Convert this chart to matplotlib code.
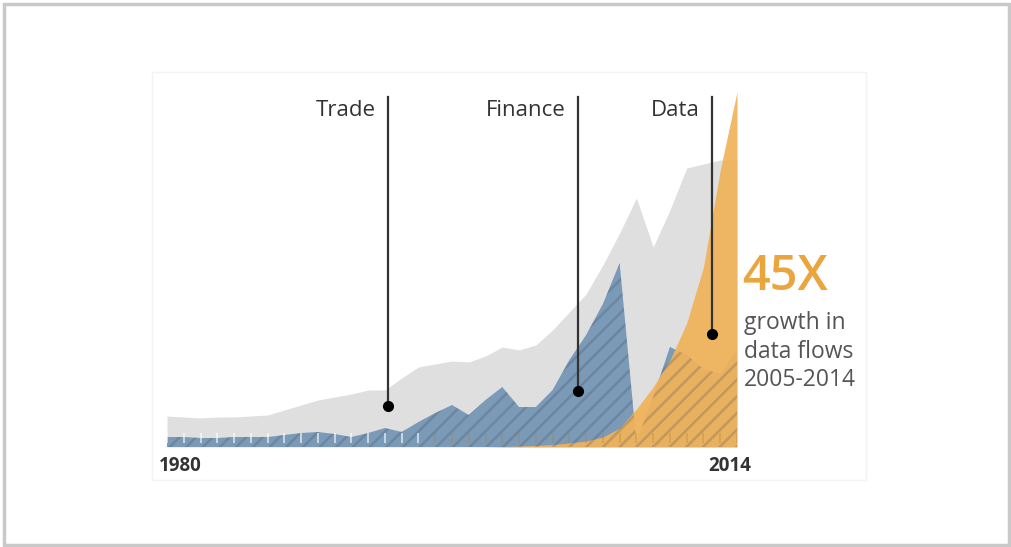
import numpy as np
import matplotlib
matplotlib.use("Agg")
import matplotlib.pyplot as plt
from matplotlib.patches import Rectangle

# ---------------- data (relative index) ----------------
years = list(range(1980, 2015))
trade = [31, 30, 29, 30, 30, 31, 32, 37, 42, 47,
         50, 53, 57, 57, 69, 80, 83, 86, 85, 91,
         100, 97, 102, 117, 135, 153, 182, 214, 249, 200,
         237, 279, 283, 287, 287]
finance = [10, 10, 9, 9, 10, 10, 10, 12, 14, 15,
           13, 10, 14, 19, 15, 25, 34, 42, 32, 47,
           60, 40, 40, 57, 87, 112, 143, 184, 5, 50,
           100, 92, 78, 73, 97]
data_flows = [0, 0, 0, 0, 0, 0, 0, 0, 0, 0,
              0, 0, 0, 0, 0, 0, 0, 0, 0, 0,
              0.5, 1, 1.5, 2.5, 4, 6, 10, 19, 38, 60,
              87, 124, 180, 277, 355]
labels = ["Trade", "Finance", "Data"]
label_years = [1993.2, 2004.5, 2012.5]
label_values = [41, 56, 113]
start_label, end_label = "1980", "2014"
big_text = "45X"
sub_text = ["growth in", "data flows", "2005-2014"]

# ---------------- figure ----------------
W, H = 1012, 547
fig = plt.figure(figsize=(W / 100, H / 100), dpi=100)
fig.patch.set_facecolor("white")
plt.rcParams["hatch.linewidth"] = 1.8

FONT = ["Open Sans", "DejaVu Sans"]

def fx(x):
    return x / W

def fy(y):
    return 1 - y / H

# outer frame
fig.patches.append(Rectangle((fx(4), fy(545)), fx(1005) - fx(0), fy(0) - fy(541),
                             transform=fig.transFigure, fill=False,
                             edgecolor="#c9c9c9", linewidth=2.5))
# faint inner picture box
fig.patches.append(Rectangle((fx(152), fy(480)), fx(714), fy(0) - fy(408),
                             transform=fig.transFigure, fill=False,
                             edgecolor="#f3f3f3", linewidth=1))

left, right, top, base = 167, 737, 92, 447
ax = fig.add_axes([fx(left), fy(base), fx(right - left), fy(top) - fy(base)])
ax.set_xlim(years[0], years[-1])
ax.set_ylim(0, 355)
ax.axis("off")

x = np.array(years)
ax.fill_between(x, 0, trade, color="#dfdfdf", linewidth=0, zorder=1)
ax.fill_between(x, 0, finance, facecolor="#7a9ab8", linewidth=0, zorder=2)
ax.fill_between(x, 0, data_flows, color="#f0b35a", alpha=0.93,
                linewidth=0, zorder=3)
# diagonal stripes of the finance area, visible through the data layer too
ax.fill_between(x, 0, finance, facecolor="none",
                edgecolor=(0.25, 0.25, 0.3, 0.22), hatch="//",
                linewidth=0, zorder=4)

# small tick marks along the baseline
for yr in years:
    c = "#ffffff" if yr < 1996 else "#b87c30"
    a = 0.7 if yr < 1996 else 0.35
    ax.plot([yr, yr], [4, 14], color=c, alpha=a, linewidth=1.2, zorder=4,
            solid_capstyle="butt")

# annotation lines, dots and labels
for lab, ly, lv in zip(labels, label_years, label_values):
    ax.plot([ly, ly], [lv, 350], color="#333333", linewidth=1.6, zorder=5,
            clip_on=False)
    ax.plot([ly], [lv], "o", color="black", markersize=7, zorder=6,
            clip_on=False)
    ax.text(ly - 0.75, 337, lab, ha="right", va="center", fontsize=16,
            color="#333333", family=FONT, zorder=6)

fig.text(fx(180), fy(466), start_label, ha="center", va="center",
         fontsize=13.5, fontweight="bold", color="#333333", family=FONT)
fig.text(fx(730), fy(466), end_label, ha="center", va="center",
         fontsize=13.5, fontweight="bold", color="#333333", family=FONT)

fig.text(fx(742), fy(278), big_text, ha="left", va="center", fontsize=35,
         fontweight="semibold", color="#eba53f", family=FONT)
for i, s in enumerate(sub_text):
    fig.text(fx(744), fy(323 + i * 28.5), s, ha="left", va="center",
             fontsize=16.5, color="#555555", family=FONT)

fig.savefig("out.png", dpi=100, facecolor="white")
